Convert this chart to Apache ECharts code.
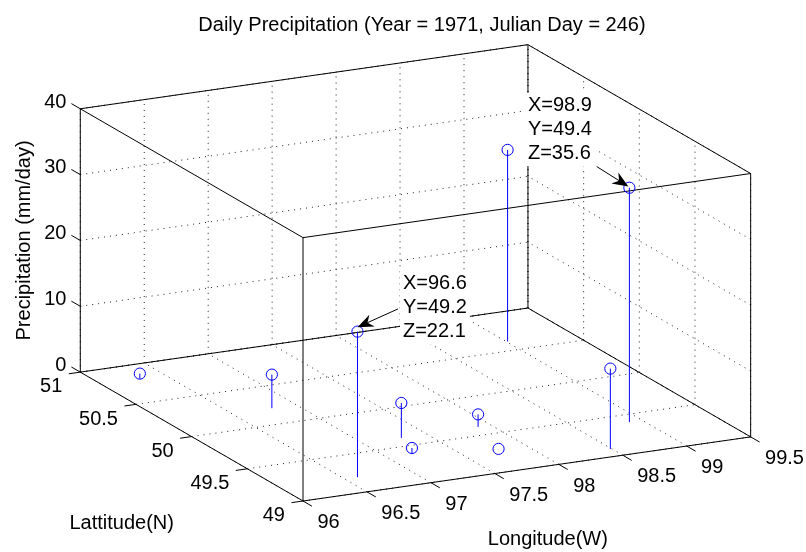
<!DOCTYPE html>
<html>
<head>
<meta charset="utf-8">
<script src="https://cdn.jsdelivr.net/npm/echarts@6/dist/echarts.min.js"></script>
<style>
  html, body { margin: 0; padding: 0; background: #ffffff; }
  #chart { width: 806px; height: 552px; }
</style>
</head>
<body>
<div id="chart"></div>
<script>
// ---- text ----
const chartTitle = 'Daily Precipitation (Year = 1971, Julian Day = 246)';
const axisTitles = ['Longitude(W)', 'Lattitude(N)', 'Precipitation (mm/day)'];

// ---- axis ticks ----
const lonTicks = [96, 96.5, 97, 97.5, 98, 98.5, 99, 99.5];
const latTicks = [49, 49.5, 50, 50.5, 51];
const precipTicks = [0, 10, 20, 30, 40];

// ---- station observations ----
const stationLon = [96.30, 96.81, 97.30, 97.20, 97.90, 97.79, 98.49, 99.01, 96.6, 98.9];
const stationLat = [50.81, 50.21, 49.61, 49.40, 49.61, 49.30, 49.10, 50.62, 49.2, 49.4];
const precip     = [0.8,   5.1,   5.3,   0.8,   1.9,   0.0,   12.2,  29.1,  22.1, 35.6];

// stations that carry a data tip
const tipStations = [8, 9];

// ---- 3-D view ----
const LON = [lonTicks[0], lonTicks[lonTicks.length - 1]];
const LAT = [latTicks[0], latTicks[latTicks.length - 1]];
const ZR = [precipTicks[0], precipTicks[precipTicks.length - 1]];
const view = { az: -26.45, el: 16.73, aspect: [1, 1, 0.55] };
const frame = { originX: 303, originY: 501, scale: 500 };

const rad = Math.PI / 180;
const ca = Math.cos(view.az * rad), sa = Math.sin(view.az * rad);
const ce = Math.cos(view.el * rad), se = Math.sin(view.el * rad);

// orthographic projection of a data point into view-plane units
function project(lon, lat, z) {
  const X = (lon - LON[0]) / (LON[1] - LON[0]) * view.aspect[0];
  const Y = (lat - LAT[0]) / (LAT[1] - LAT[0]) * view.aspect[1];
  const Z = (z - ZR[0]) / (ZR[1] - ZR[0]) * view.aspect[2];
  return [ca * X + sa * Y, -se * sa * X + se * ca * Y + ce * Z];
}

// extent of the projected box, used for the hidden plane axes
const corners = [];
[LON[0], LON[1]].forEach(x => [LAT[0], LAT[1]].forEach(y => [ZR[0], ZR[1]].forEach(z => corners.push(project(x, y, z)))));
const uMin = Math.min(...corners.map(c => c[0])), uMax = Math.max(...corners.map(c => c[0]));
const vMin = Math.min(...corners.map(c => c[1])), vMax = Math.max(...corners.map(c => c[1]));

function px(api, lon, lat, z) { return api.coord(project(lon, lat, z)); }

// ---- grid lines on floor and the two back walls ----
const gridSegs = [];
lonTicks.forEach(x => gridSegs.push([x, LAT[0], ZR[0], x, LAT[1], ZR[0]]));
latTicks.forEach(y => gridSegs.push([LON[0], y, ZR[0], LON[1], y, ZR[0]]));
lonTicks.forEach(x => gridSegs.push([x, LAT[1], ZR[0], x, LAT[1], ZR[1]]));
precipTicks.forEach(z => gridSegs.push([LON[0], LAT[1], z, LON[1], LAT[1], z]));
latTicks.forEach(y => gridSegs.push([LON[1], y, ZR[0], LON[1], y, ZR[1]]));
precipTicks.forEach(z => gridSegs.push([LON[1], LAT[0], z, LON[1], LAT[1], z]));

// ---- the twelve box edges ----
const boxSegs = [];
[ZR[0], ZR[1]].forEach(z => {
  boxSegs.push([LON[0], LAT[0], z, LON[1], LAT[0], z]);
  boxSegs.push([LON[0], LAT[1], z, LON[1], LAT[1], z]);
  boxSegs.push([LON[0], LAT[0], z, LON[0], LAT[1], z]);
  boxSegs.push([LON[1], LAT[0], z, LON[1], LAT[1], z]);
});
[LON[0], LON[1]].forEach(x => [LAT[0], LAT[1]].forEach(y => boxSegs.push([x, y, ZR[0], x, y, ZR[1]])));

// ---- ticks: [lon, lat, z, axis] (0 lon, 1 lat, 2 precipitation) ----
const tickItems = [];
lonTicks.forEach(x => tickItems.push([x, LAT[0], ZR[0], 0]));
latTicks.forEach(y => tickItems.push([LON[0], y, ZR[0], 1]));
precipTicks.forEach(z => tickItems.push([LON[0], LAT[1], z, 2]));

const tickDir = [[0, -0.08, 0], [-0.09, 0, 0], [0, 0.08, 0]];
const tickText = [
  { dx: 5.5, dy: 16.5, align: 'left' },
  { dx: -6.5, dy: 13, align: 'right' },
  { dx: -5, dy: -1.5, align: 'right' }
];

// ---- axis title anchors (axis midpoints) ----
const titleItems = [
  [(LON[0] + LON[1]) / 2, LAT[0], ZR[0], 0],
  [LON[0], (LAT[0] + LAT[1]) / 2, ZR[0], 1],
  [LON[0], LAT[1], (ZR[0] + ZR[1]) / 2, 2]
];
const titleOffset = [[21, 71, 0], [-70, 87, 0], [-56, 0, Math.PI / 2]];

const FONT = '"Liberation Sans", Arial, Helvetica, sans-serif';

// data tip placement relative to the marked point (pixels)
const tipLayout = [
  { text: [45.5, -24], tail: [40.5, -22.7], tip: [0, -4.4] },
  { text: [-101.4, -58.3], tail: [-32.7, -21.2], tip: [-1, -1.2] }
];

function segmentRenderer(style) {
  return function (params, api) {
    const a = px(api, api.value(0), api.value(1), api.value(2));
    const b = px(api, api.value(3), api.value(4), api.value(5));
    return { type: 'line', silent: true, shape: { x1: a[0], y1: a[1], x2: b[0], y2: b[1] }, style: style };
  };
}

const chart = echarts.init(document.getElementById('chart'), null, { renderer: 'canvas' });

chart.setOption({
  animation: false,
  backgroundColor: '#ffffff',
  title: {
    text: chartTitle,
    left: 417,
    top: 10,
    textAlign: 'center',
    textStyle: { fontSize: 20, fontWeight: 'normal', color: '#000', fontFamily: FONT }
  },
  grid: {
    left: frame.originX + frame.scale * uMin,
    top: frame.originY - frame.scale * vMax,
    width: frame.scale * (uMax - uMin),
    height: frame.scale * (vMax - vMin)
  },
  xAxis: { type: 'value', min: uMin, max: uMax, show: false },
  yAxis: { type: 'value', min: vMin, max: vMax, show: false },
  series: [
    {
      name: 'grid', type: 'custom', z: 1, silent: true,
      data: gridSegs,
      renderItem: segmentRenderer({ stroke: '#222', lineWidth: 1, lineDash: [1, 5] })
    },
    {
      name: 'box', type: 'custom', z: 2, silent: true,
      data: boxSegs,
      renderItem: segmentRenderer({ stroke: '#000', lineWidth: 1 })
    },
    {
      name: 'ticks', type: 'custom', z: 3, silent: true,
      data: tickItems,
      renderItem: function (params, api) {
        const axis = api.value(3);
        const lon = api.value(0), lat = api.value(1), z = api.value(2);
        const d = tickDir[axis];
        const a = px(api, lon, lat, z);
        const b = px(api, lon + d[0], lat + d[1], z + d[2]);
        const t = tickText[axis];
        const val = [lon, lat, z][axis];
        return {
          type: 'group',
          children: [
            { type: 'line', shape: { x1: a[0], y1: a[1], x2: b[0], y2: b[1] }, style: { stroke: '#000', lineWidth: 1 } },
            {
              type: 'text',
              style: {
                text: String(val), x: b[0] + t.dx, y: b[1] + t.dy,
                align: t.align, verticalAlign: 'middle',
                fill: '#000', fontSize: 20, fontFamily: FONT
              }
            }
          ]
        };
      }
    },
    {
      name: 'axis titles', type: 'custom', z: 3, silent: true,
      data: titleItems,
      renderItem: function (params, api) {
        const axis = api.value(3);
        const p = px(api, api.value(0), api.value(1), api.value(2));
        const o = titleOffset[axis];
        return {
          type: 'text',
          x: p[0] + o[0], y: p[1] + o[1], rotation: o[2],
          style: {
            text: axisTitles[axis], x: 0, y: 0,
            align: 'center', verticalAlign: 'middle',
            fill: '#000', fontSize: 20, fontFamily: FONT
          }
        };
      }
    },
    {
      name: 'precipitation', type: 'custom', z: 4, silent: true,
      data: stationLon.map((x, i) => [x, stationLat[i], precip[i]]),
      renderItem: function (params, api) {
        const lon = api.value(0), lat = api.value(1), z = api.value(2);
        const base = px(api, lon, lat, ZR[0]);
        const top = px(api, lon, lat, z);
        return {
          type: 'group',
          children: [
            { type: 'line', shape: { x1: base[0], y1: base[1], x2: top[0], y2: top[1] }, style: { stroke: '#0000ff', lineWidth: 1 } },
            { type: 'circle', shape: { cx: top[0], cy: top[1], r: 5.6 }, style: { stroke: '#0000ff', fill: 'none', lineWidth: 1 } }
          ]
        };
      }
    },
    {
      name: 'data tips', type: 'custom', z: 6, silent: true,
      data: tipStations.map(i => [stationLon[i], stationLat[i], precip[i]]),
      renderItem: function (params, api) {
        const lon = api.value(0), lat = api.value(1), z = api.value(2);
        const p = px(api, lon, lat, z);
        const lay = tipLayout[params.dataIndex];
        const tail = [p[0] + lay.tail[0], p[1] + lay.tail[1]];
        const tip = [p[0] + lay.tip[0], p[1] + lay.tip[1]];
        const dx = tip[0] - tail[0], dy = tip[1] - tail[1];
        const len = Math.sqrt(dx * dx + dy * dy);
        const ux = dx / len, uy = dy / len, nx = -uy, ny = ux;
        const L = 16, W = 6.5, notch = 11;
        const head = [
          tip,
          [tip[0] - L * ux + W * nx, tip[1] - L * uy + W * ny],
          [tip[0] - notch * ux, tip[1] - notch * uy],
          [tip[0] - L * ux - W * nx, tip[1] - L * uy - W * ny]
        ];
        const label = 'X=' + lon.toFixed(1) + '\nY=' + lat.toFixed(1) + '\nZ=' + z.toFixed(1);
        return {
          type: 'group',
          children: [
            {
              type: 'text', z2: 1,
              style: {
                text: label, x: p[0] + lay.text[0] - 3, y: p[1] + lay.text[1],
                align: 'left', verticalAlign: 'middle', lineHeight: 23.7,
                fill: '#000', fontSize: 20, fontFamily: FONT,
                backgroundColor: '#ffffff', padding: [1, 3, 1, 3]
              }
            },
            { type: 'line', z2: 2, shape: { x1: tail[0], y1: tail[1], x2: head[2][0], y2: head[2][1] }, style: { stroke: '#000', lineWidth: 1 } },
            { type: 'polygon', z2: 3, shape: { points: head }, style: { fill: '#000', stroke: null } }
          ]
        };
      }
    }
  ]
});
</script>
</body>
</html>
